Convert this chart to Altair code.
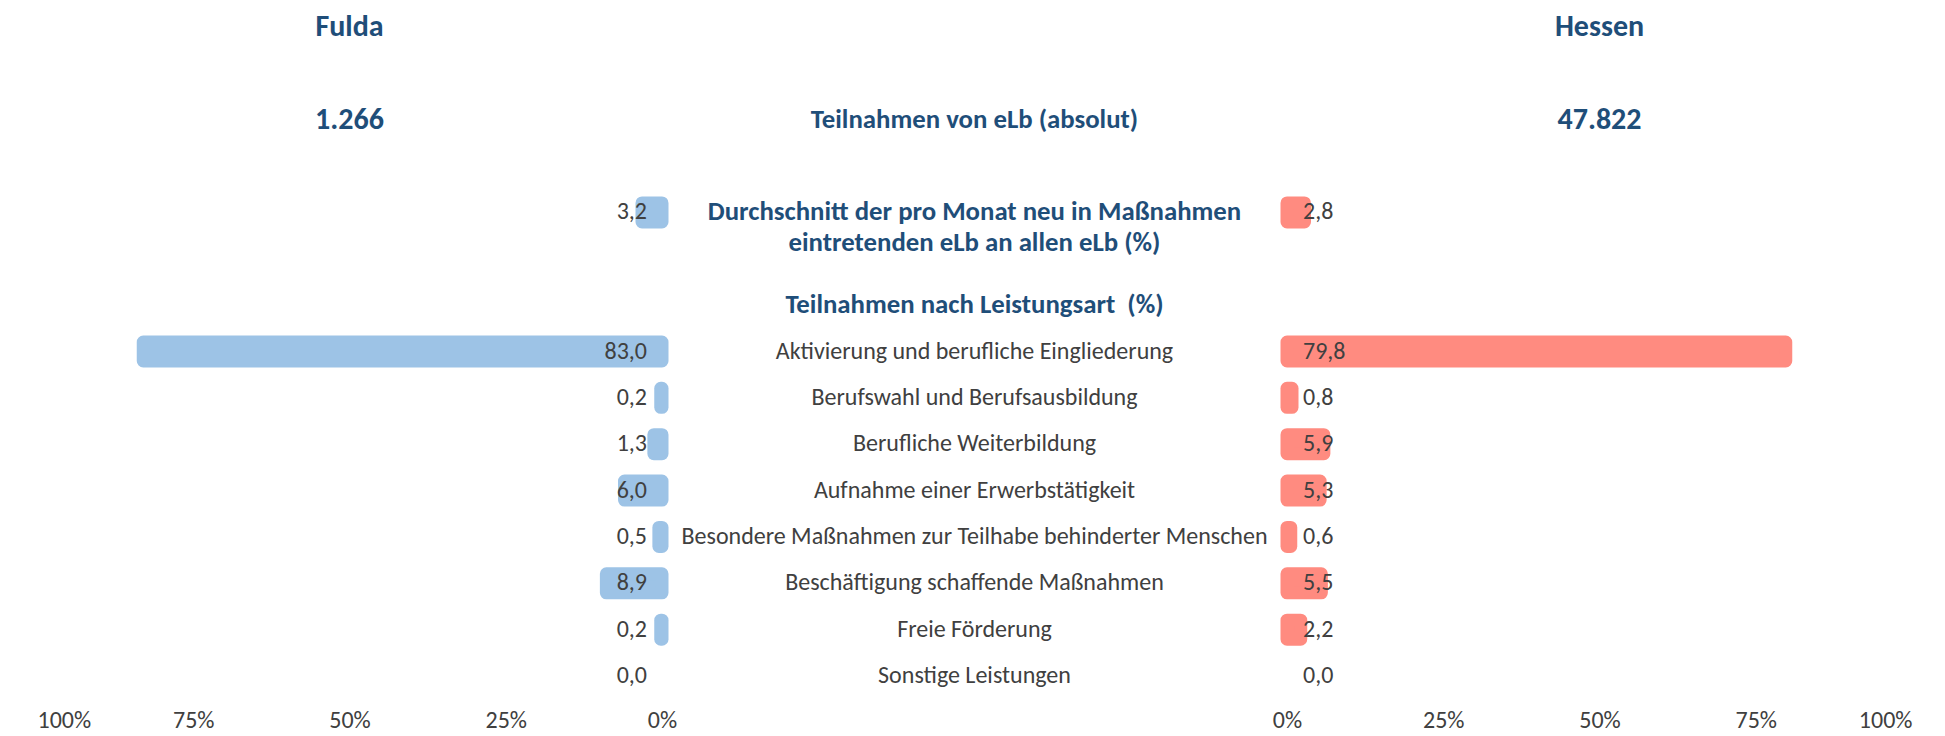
import altair as alt
import pandas as pd

# ---------------- data ----------------
regions = ["Fulda", "Hessen"]
absolute_counts = [1266, 47822]
avg_entry_share = [3.2, 2.8]          # Durchschnitt neu eintretender eLb (%)
categories = [
    "Aktivierung und berufliche Eingliederung",
    "Berufswahl und Berufsausbildung",
    "Berufliche Weiterbildung",
    "Aufnahme einer Erwerbstätigkeit",
    "Besondere Maßnahmen zur Teilhabe behinderter Menschen",
    "Beschäftigung schaffende Maßnahmen",
    "Freie Förderung",
    "Sonstige Leistungen",
]
fulda_share = [83.0, 0.2, 1.3, 6.0, 0.5, 8.9, 0.2, 0.0]
hessen_share = [79.8, 0.8, 5.9, 5.3, 0.6, 5.5, 2.2, 0.0]

header_abs = "Teilnahmen von eLb (absolut)"
header_avg = ["Durchschnitt der pro Monat neu in Maßnahmen", "eintretenden eLb an allen eLb (%)"]
header_type = "Teilnahmen nach Leistungsart\u00a0 (%)"
tick_values = [-150, -125, -100, -75, -50, 50, 75, 100, 125, 150]

# ---------------- styling ----------------
FONT = "Carlito, Calibri, Lato, 'Open Sans', sans-serif"
TITLE_COLOR = "#1F4E79"
TEXT_COLOR = "#404040"
COLORS = ["#9DC3E6", "#FF8B80"]

row_order = ["r_region", "g1", "r_abs", "g2", "r_avg", "g3", "r_type"] + categories

# bars table
bar_rows = []
for i, reg in enumerate(regions):
    side = -1 if i == 0 else 1
    bar_rows.append({"row": "r_avg", "region": reg, "value": avg_entry_share[i], "side": side})
    shares = fulda_share if i == 0 else hessen_share
    for c, v in zip(categories, shares):
        bar_rows.append({"row": c, "region": reg, "value": v, "side": side})
bars_df = pd.DataFrame(bar_rows)
bars_df["label"] = bars_df["value"].map(lambda v: f"{v:.1f}".replace(".", ","))

# side headers (region names, absolute counts)
side_rows = []
for i, reg in enumerate(regions):
    side = -1 if i == 0 else 1
    side_rows.append({"row": "r_region", "side": side, "text": reg})
    side_rows.append({"row": "r_abs", "side": side, "text": f"{absolute_counts[i]:,}".replace(",", ".")})
side_df = pd.DataFrame(side_rows)

# centre headers
mid_df = pd.DataFrame([
    {"row": "r_abs", "text": header_abs},
    {"row": "r_avg", "text": header_avg},
    {"row": "r_type", "text": header_type},
])

cat_df = pd.DataFrame({"row": categories, "text": categories})

yenc = alt.Y("row:N", scale=alt.Scale(domain=row_order, type="point", padding=0), axis=None)
xscale = alt.Scale(domain=[-150, 150], nice=False, zero=False)
color_scale = alt.Scale(domain=regions, range=COLORS)

base_bars = alt.Chart(bars_df).transform_calculate(
    x0="datum.side * 50", x1="datum.side * (50 + datum.value)"
)

bars = base_bars.transform_filter("datum.value > 0").mark_bar(
    height=19, strokeWidth=13, strokeJoin="round"
).encode(
    x=alt.X("x0:Q", scale=xscale,
            axis=alt.Axis(values=tick_values,
                          labelExpr="abs(abs(datum.value) - 50) + '%'",
                          grid=False, domain=False, ticks=False, title=None,
                          labelFontSize=24, labelColor=TEXT_COLOR, labelFont=FONT,
                          labelPadding=44, labelBaseline="middle")),
    x2="x1:Q",
    y=yenc,
    color=alt.Color("region:N", scale=color_scale, legend=None),
    stroke=alt.Stroke("region:N", scale=color_scale, legend=None),
)

left_labels = base_bars.transform_filter("datum.side < 0").mark_text(
    align="right", baseline="middle", dx=-15, fontSize=24, font=FONT, color=TEXT_COLOR
).encode(x=alt.X("x0:Q", scale=xscale), y=yenc, text="label:N")

right_labels = base_bars.transform_filter("datum.side > 0").mark_text(
    align="left", baseline="middle", dx=16, fontSize=24, font=FONT, color=TEXT_COLOR
).encode(x=alt.X("x0:Q", scale=xscale), y=yenc, text="label:N")

side_heads = alt.Chart(side_df).transform_calculate(
    xpos="datum.side * 100"
).mark_text(
    align="center", baseline="middle", fontSize=30, fontWeight="bold",
    font=FONT, color=TITLE_COLOR
).encode(x=alt.X("xpos:Q", scale=xscale), y=yenc, text="text:N")

mid_heads = alt.Chart(mid_df).transform_calculate(xpos="0").mark_text(
    align="center", baseline="middle", fontSize=26.8, fontWeight="bold",
    font=FONT, color=TITLE_COLOR, lineHeight=31
).encode(x=alt.X("xpos:Q", scale=xscale), y=yenc, text="text")

cats = alt.Chart(cat_df).transform_calculate(xpos="0").mark_text(
    align="center", baseline="middle", fontSize=24, font=FONT, color=TEXT_COLOR
).encode(x=alt.X("xpos:Q", scale=xscale), y=yenc, text="text:N")

chart = alt.layer(bars, left_labels, right_labels, side_heads, mid_heads, cats).properties(
    width=1875, height=649,
    autosize=alt.AutoSizeParams(type="none"),
    padding={"left": 29, "right": 25, "top": 19, "bottom": 58},
).configure_view(stroke=None)

chart.save("out.html", embed_options={"renderer": "svg", "actions": False})
